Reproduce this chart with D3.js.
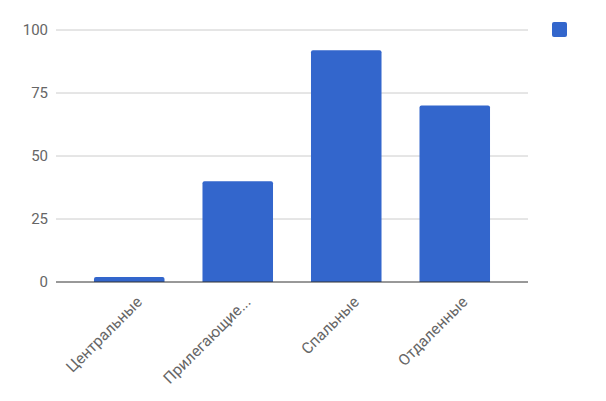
<!DOCTYPE html>
<html>
<head>
<meta charset="utf-8">
<script src="https://cdn.jsdelivr.net/npm/d3@7"></script>
<style>
  body { margin: 0; background: #fff; }
  text { font-family: Roboto, Arial, sans-serif; }
</style>
</head>
<body>
<div id="chart"></div>
<script>
var categories = ["Центральные", "Прилегающие...", "Спальные", "Отдаленные"];
var values = [2, 40, 92, 70];
var yTicks = [0, 25, 50, 75, 100];

var W = 606, H = 401;
var margin = {top: 30, right: 78, bottom: 119, left: 56};
var width = W - margin.left - margin.right,
    height = H - margin.top - margin.bottom;

var svg = d3.select("#chart").append("svg")
  .attr("width", W)
  .attr("height", H);

var g = svg.append("g")
  .attr("transform", "translate(" + margin.left + "," + margin.top + ")");

var x = d3.scaleBand()
  .domain(categories)
  .range([0, width])
  .paddingInner(0.35)
  .paddingOuter(0.35);

var y = d3.scaleLinear()
  .domain([0, 100])
  .range([height, 0]);

// gridlines
g.selectAll(".grid")
  .data(yTicks.filter(function(d) { return d > 0; }))
  .enter().append("line")
  .attr("x1", 0)
  .attr("x2", width)
  .attr("y1", function(d) { return y(d); })
  .attr("y2", function(d) { return y(d); })
  .attr("stroke", "#cccccc")
  .attr("stroke-width", 1);

// y labels
var yAxis = g.append("g")
  .call(d3.axisLeft(y).tickValues(yTicks).tickSize(0).tickPadding(8));
yAxis.select(".domain").remove();
yAxis.selectAll("text")
  .attr("fill", "#666")
  .style("font-size", "15px");

// bars
g.selectAll(".bar")
  .data(values)
  .enter().append("path")
  .attr("class", "bar")
  .attr("fill", "#3366cc")
  .attr("d", function(d, i) {
    var x0 = x(categories[i]), w = x.bandwidth();
    var y0 = y(d), y1 = y(0), r = Math.min(2, (y1 - y0) / 2);
    return "M" + x0 + "," + y1 +
      "V" + (y0 + r) +
      "Q" + x0 + "," + y0 + " " + (x0 + r) + "," + y0 +
      "H" + (x0 + w - r) +
      "Q" + (x0 + w) + "," + y0 + " " + (x0 + w) + "," + (y0 + r) +
      "V" + y1 + "Z";
  });

// baseline
g.append("line")
  .attr("x1", 0)
  .attr("x2", width)
  .attr("y1", y(0))
  .attr("y2", y(0))
  .attr("stroke", "#333")
  .attr("stroke-width", 1);

// x labels
var xAxis = g.append("g")
  .attr("transform", "translate(0," + height + ")")
  .call(d3.axisBottom(x).tickSize(0).tickPadding(0));
xAxis.select(".domain").remove();
xAxis.selectAll("text")
  .attr("fill", "#666")
  .style("font-size", "15.5px")
  .attr("text-anchor", "end")
  .attr("dy", "0.35em")
  .attr("transform", "translate(10,17) rotate(-45)");

// legend (no label)
svg.append("rect")
  .attr("x", margin.left + width + 24)
  .attr("y", 22)
  .attr("width", 15)
  .attr("height", 15)
  .attr("rx", 2)
  .attr("fill", "#3366cc");
</script>
</body>
</html>
